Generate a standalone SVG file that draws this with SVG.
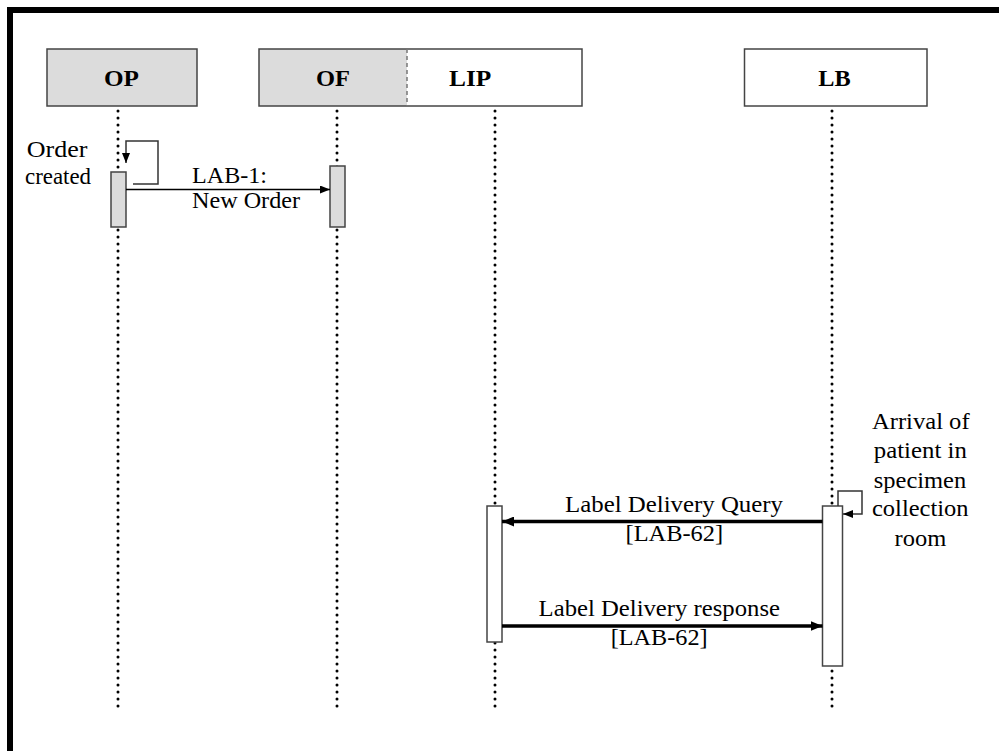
<svg xmlns="http://www.w3.org/2000/svg" width="999" height="751" viewBox="0 0 999 751">
<defs>
<style>
.box{stroke:#444;stroke-width:1.5}
.gray{fill:#dcdcdc}
.white{fill:#fff}
.hdr{font-family:"Liberation Serif","Times New Roman",serif;font-weight:bold;font-size:23px;fill:#000}
.txt{font-family:"Liberation Serif","Times New Roman",serif;font-size:22.5px;fill:#000}
.life{stroke:#000;stroke-width:3;stroke-linecap:round;stroke-dasharray:0 7;fill:none}
.act{stroke:#444;stroke-width:1.5}
.msg{stroke:#000;stroke-width:1.5;fill:none}
.msgb{stroke:#000;stroke-width:3.5;fill:none}
.loop{stroke:#333;stroke-width:1.5;fill:none}
</style>
<marker id="ah" viewBox="0 0 10 8" refX="10" refY="4" markerWidth="10" markerHeight="8" markerUnits="userSpaceOnUse" orient="auto">
<path d="M0,0 L10,4 L0,8 z" fill="#000"/>
</marker>
<marker id="ahb" viewBox="0 0 12 10" refX="12" refY="5" markerWidth="12" markerHeight="10" markerUnits="userSpaceOnUse" orient="auto">
<path d="M0,0 L12,5 L0,10 z" fill="#000"/>
</marker>
</defs>
<rect x="0" y="0" width="999" height="751" fill="#fff"/>
<rect x="10" y="10" width="1000" height="800" fill="none" stroke="#000" stroke-width="6"/>

<g id="lifelines">
<line class="life" x1="118" y1="111" x2="118" y2="708"/>
<line class="life" x1="337" y1="111" x2="337" y2="708"/>
<line class="life" x1="495" y1="111" x2="495" y2="708"/>
<line class="life" x1="832" y1="111" x2="832" y2="708"/>
</g>

<g id="OP">
<rect class="box gray" x="47" y="49" width="150" height="57"/>
<text class="hdr" x="104" y="86" textLength="35" lengthAdjust="spacingAndGlyphs">OP</text>
</g>
<g id="OF">
<rect class="gray" x="259" y="49" width="148" height="57"/>
<text class="hdr" x="316" y="86" textLength="34" lengthAdjust="spacingAndGlyphs">OF</text>
</g>
<g id="LIP">
<rect class="white" x="407" y="49" width="175" height="57"/>
<text class="hdr" x="449" y="86" textLength="42.3" lengthAdjust="spacingAndGlyphs">LIP</text>
</g>
<rect x="259" y="49" width="323" height="57" fill="none" class="box"/>
<line x1="407" y1="49" x2="407" y2="106" stroke="#777" stroke-width="1.5" stroke-dasharray="4 3"/>
<g id="LB">
<rect class="box white" x="744.5" y="49" width="182.5" height="57"/>
<text class="hdr" x="818.3" y="86" textLength="32.4" lengthAdjust="spacingAndGlyphs">LB</text>
</g>

<g id="activations">
<rect class="act gray" x="111" y="172" width="15" height="55"/>
<rect class="act gray" x="330" y="166" width="15" height="61"/>
<rect class="act white" x="487" y="506" width="15" height="136"/>
<rect class="act white" x="822.5" y="506" width="20" height="160"/>
</g>

<g id="connectors">
<path class="loop" d="M133,184 H158 V141 H126 V163" marker-end="url(#ah)"/>
<line class="msg" x1="126" y1="189.5" x2="330" y2="189.5" marker-end="url(#ah)"/>
<path class="loop" d="M838,506 V491 H862 V514 H843" marker-end="url(#ah)"/>
<line class="msgb" x1="822.5" y1="521.5" x2="502" y2="521.5" marker-end="url(#ahb)"/>
<line class="msgb" x1="502" y1="626" x2="822.5" y2="626" marker-end="url(#ahb)"/>
</g>

<g id="labels">
<text class="txt" x="26.7" y="157" textLength="60.7" lengthAdjust="spacingAndGlyphs">Order</text>
<text class="txt" x="25" y="184" textLength="66" lengthAdjust="spacingAndGlyphs">created</text>
<text class="txt" x="192" y="183" textLength="75" lengthAdjust="spacingAndGlyphs">LAB-1:</text>
<text class="txt" x="192" y="208" textLength="108" lengthAdjust="spacingAndGlyphs">New Order</text>
<text class="txt" x="565" y="512" textLength="218" lengthAdjust="spacingAndGlyphs">Label Delivery Query</text>
<text class="txt" x="625.5" y="540.5" textLength="97.6" lengthAdjust="spacingAndGlyphs">[LAB-62]</text>
<text class="txt" x="538.6" y="616" textLength="241.4" lengthAdjust="spacingAndGlyphs">Label Delivery response</text>
<text class="txt" x="610.7" y="645" textLength="97" lengthAdjust="spacingAndGlyphs">[LAB-62]</text>
<text class="txt" x="872" y="429" textLength="97.6" lengthAdjust="spacingAndGlyphs">Arrival of</text>
<text class="txt" x="873.8" y="458" textLength="93" lengthAdjust="spacingAndGlyphs">patient in</text>
<text class="txt" x="873.8" y="487.5" textLength="92.4" lengthAdjust="spacingAndGlyphs">specimen</text>
<text class="txt" x="872" y="515.5" textLength="96.6" lengthAdjust="spacingAndGlyphs">collection</text>
<text class="txt" x="894.5" y="546" textLength="51.7" lengthAdjust="spacingAndGlyphs">room</text>
</g>
</svg>
